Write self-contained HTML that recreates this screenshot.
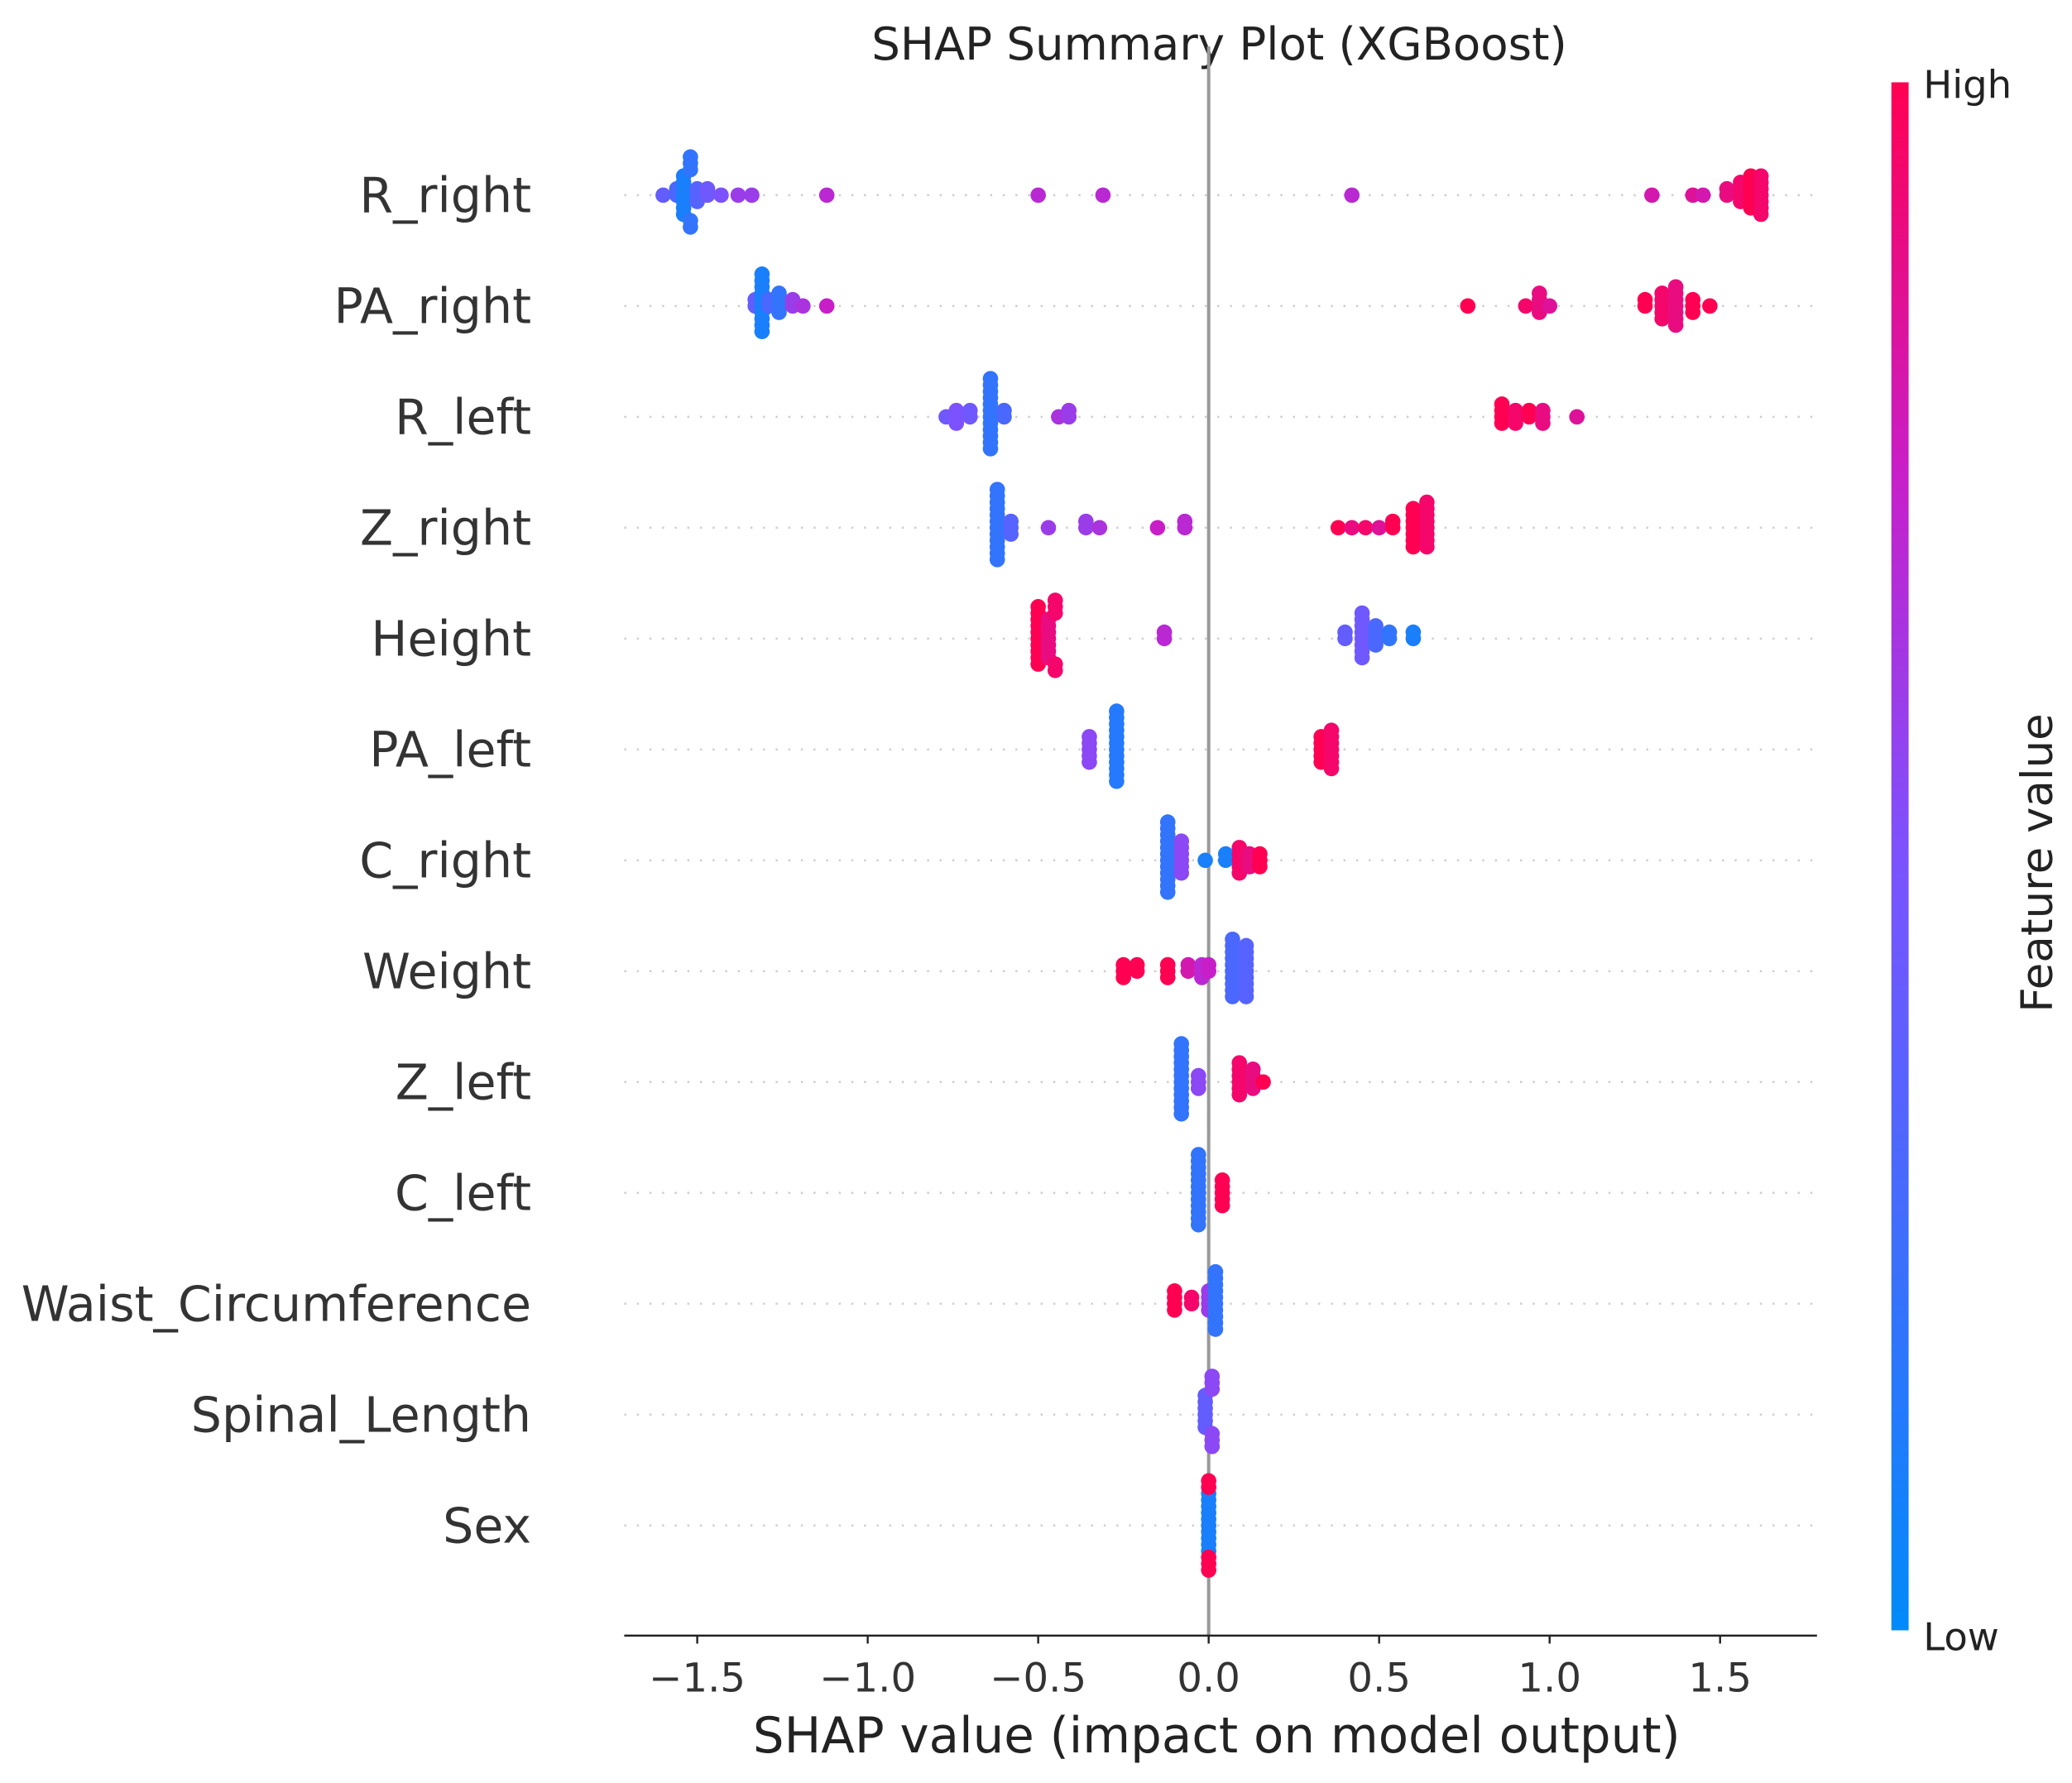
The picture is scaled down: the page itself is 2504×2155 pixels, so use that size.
<!DOCTYPE html>
<html><head><meta charset="utf-8"><style>
html,body{margin:0;padding:0;background:#fff;}
svg{display:block;font-family:"DejaVu Sans","Liberation Sans",sans-serif;}
</style></head><body>
<svg id="chart" width="2504" height="2155" viewBox="0 0 1560 1343" preserveAspectRatio="none" xmlns="http://www.w3.org/2000/svg">
<defs><linearGradient id="cb" x1="0" y1="1" x2="0" y2="0">
<stop offset="0" stop-color="rgb(0,138,250)"/><stop offset="0.5" stop-color="rgb(124,82,255)"/><stop offset="0.75" stop-color="rgb(200,30,200)"/><stop offset="1" stop-color="rgb(255,0,82)"/></linearGradient></defs>
<text x="918" y="45" font-size="34" text-anchor="middle" fill="#222">SHAP Summary Plot (XGBoost)</text>
<g id="rows"></g>
<line x1="910" y1="35" x2="910" y2="1232" stroke="#999" stroke-width="2.5"/>
<g id="dots"></g>
<line x1="470" y1="1232" x2="1368" y2="1232" stroke="#222" stroke-width="1.6"/>
<g id="xticks"></g>
<text x="916" y="1320" font-size="37" text-anchor="middle" fill="#222">SHAP value (impact on model output)</text>
<rect x="1424" y="62" width="13" height="1166" fill="url(#cb)"/>
<text x="1448" y="74" font-size="29" fill="#222">High</text>
<text x="1448" y="1243" font-size="29" fill="#222">Low</text>
<text x="0" y="0" font-size="33" fill="#222" text-anchor="middle" transform="translate(1545,650) rotate(-90)">Feature value</text>
</svg>
<script>
const features = ["R_right","PA_right","R_left","Z_right","Height","PA_left","C_right","Weight","Z_left","C_left","Waist_Circumference","Spinal_Length","Sex"];
const xTicks = [-1.5,-1.0,-0.5,0.0,0.5,1.0,1.5];
const xTickLabels = ["\u22121.5","\u22121.0","\u22120.5","0.0","0.5","1.0","1.5"];
// points per feature: [shap value, feature value (0..1), count]
const pts_R_right = [[-1.6,0.4,1],[-1.56,0.3,2],[-1.54,0.1,7],[-1.52,0.2,5],[-1.5,0.35,3],[-1.47,0.45,2],[-1.43,0.5,1],[-1.38,0.6,1],[-1.34,0.6,1],[-1.12,0.7,1],[-0.5,0.7,1],[-0.31,0.7,1],[0.42,0.7,1],[1.3,0.8,1],[1.42,0.85,1],[1.45,0.8,1],[1.52,0.9,2],[1.56,0.95,4],[1.59,1,6],[1.62,0.95,7]];
const pts_PA_right = [[-1.33,0.4,2],[-1.31,0.1,10],[-1.29,0.3,2],[-1.26,0.2,4],[-1.22,0.6,2],[-1.19,0.65,1],[-1.12,0.75,1],[0.76,1,1],[0.93,0.95,1],[0.97,0.9,4],[1.0,0.85,1],[1.28,1,2],[1.33,0.95,5],[1.37,0.9,7],[1.42,1,3],[1.47,1,1]];
const pts_R_left = [[-0.77,0.45,1],[-0.74,0.5,3],[-0.7,0.45,2],[-0.64,0.2,12],[-0.6,0.3,2],[-0.44,0.65,1],[-0.41,0.6,2],[0.86,1,4],[0.9,0.95,3],[0.94,1,2],[0.98,0.9,3],[1.08,0.85,1]];
const pts_Z_right = [[-0.62,0.2,12],[-0.58,0.35,3],[-0.47,0.6,1],[-0.36,0.6,2],[-0.32,0.65,1],[-0.15,0.75,1],[-0.07,0.7,2],[0.38,1,1],[0.42,0.9,1],[0.46,0.95,1],[0.5,0.85,1],[0.54,1,2],[0.6,1,7],[0.64,0.95,8]];
const pts_Height = [[-0.5,1,10],[-0.47,0.9,7],[-0.45,0.95,5],[-0.13,0.7,2],[0.4,0.4,2],[0.45,0.45,8],[0.49,0.3,4],[0.53,0.2,2],[0.6,0.1,2]];
const pts_PA_left = [[-0.35,0.55,5],[-0.27,0.15,12],[0.33,1,5],[0.36,0.95,7]];
const pts_C_right = [[-0.12,0.2,12],[-0.08,0.55,6],[-0.01,0.1,1],[0.05,0.1,2],[0.09,0.95,5],[0.12,0.9,3],[0.15,1,3]];
const pts_Weight = [[-0.25,1,3],[-0.21,1,2],[-0.12,1,3],[-0.06,0.8,2],[-0.02,0.7,3],[0.0,0.75,2],[0.07,0.3,10],[0.11,0.35,9]];
const pts_Z_left = [[-0.08,0.2,12],[-0.03,0.55,3],[0.09,0.95,6],[0.13,0.9,4],[0.16,1,1]];
const pts_C_left = [[-0.03,0.2,12],[0.04,1,5]];
const pts_Waist = [[-0.1,1,4],[-0.05,0.95,2],[0.0,0.6,4],[0.02,0.2,10]];
const pts_Spinal = [[-0.01,0.4,6],[0.01,0.55,6]];
const pts_Sex = [[0.0,0.1,10],[0.0,1,5]];
const allPts = [pts_R_right,pts_PA_right,pts_R_left,pts_Z_right,pts_Height,pts_PA_left,pts_C_right,pts_Weight,pts_Z_left,pts_C_left,pts_Waist,pts_Spinal,pts_Sex];

const NS="http://www.w3.org/2000/svg";
function xScale(v){return 910+v*256.7;}
function yRow(i){return 147+i*83.5;}
function color(t){
  const s=[[0,[0,138,250]],[0.5,[124,82,255]],[0.75,[200,30,200]],[1,[255,0,82]]];
  for(let k=1;k<s.length;k++){if(t<=s[k][0]){const a=s[k-1],b=s[k],f=(t-a[0])/(b[0]-a[0]);
    return "rgb("+a[1].map((c,j)=>Math.round(c+(b[1][j]-c)*f)).join(",")+")";}}
  return "rgb(255,0,82)";
}
const rows=document.getElementById('rows'),dots=document.getElementById('dots'),xt=document.getElementById('xticks');
features.forEach((f,i)=>{
  const y=yRow(i);
  const ln=document.createElementNS(NS,'line');
  
  
  ln.setAttribute('x1',470);ln.setAttribute('x2',1368);ln.setAttribute('y1',y);ln.setAttribute('y2',y);
  ln.setAttribute('stroke','#ccc');ln.setAttribute('stroke-dasharray','1.5 8');ln.setAttribute('stroke-width','1.5');
  rows.appendChild(ln);
  const t=document.createElementNS(NS,'text');
  
  
  t.setAttribute('x',400);t.setAttribute('y',y+13);t.setAttribute('font-size','36.5');t.setAttribute('text-anchor','end');t.setAttribute('fill','#333');
  t.textContent=f;rows.appendChild(t);
  const bins={};
  const list=[];
  allPts[i].forEach(p=>{for(let c=0;c<p[2];c++)list.push([p[0],p[1]]);});
  list.forEach(p=>{
    const px=xScale(p[0]);const b=Math.round(px/7);
    bins[b]=(bins[b]||0)+1;const n=bins[b]-1;
    const off=(n%2===0?1:-1)*Math.ceil(n/2)*4.8;
    const c=document.createElementNS(NS,'circle');
    
    
    c.setAttribute('cx',px);c.setAttribute('cy',y+off);c.setAttribute('r',5.8);c.setAttribute('fill',color(p[1]));
    dots.appendChild(c);
  });
});
xTicks.forEach((v,k)=>{
  const x=xScale(v);
  const l=document.createElementNS(NS,'line');
  
  
  l.setAttribute('x1',x);l.setAttribute('x2',x);l.setAttribute('y1',1232);l.setAttribute('y2',1238);l.setAttribute('stroke','#222');l.setAttribute('stroke-width','1.5');
  xt.appendChild(l);
  const t=document.createElementNS(NS,'text');
  
  
  t.setAttribute('x',x);t.setAttribute('y',1274);t.setAttribute('font-size','30');t.setAttribute('text-anchor','middle');t.setAttribute('fill','#333');
  t.textContent=xTickLabels[k];xt.appendChild(t);
});
</script>
</body></html>
